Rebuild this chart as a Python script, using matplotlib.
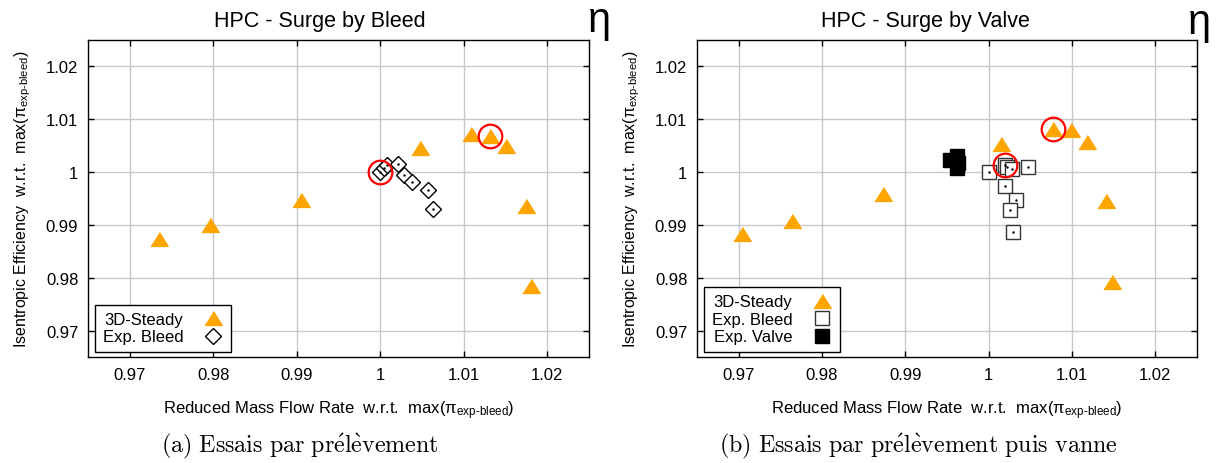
import matplotlib.pyplot as plt

plt.rcParams['font.family'] = ['Liberation Sans', 'DejaVu Sans']
plt.rcParams['mathtext.fontset'] = 'custom'
plt.rcParams['mathtext.rm'] = 'Liberation Sans'
plt.rcParams['mathtext.it'] = 'Liberation Sans:italic'

# --- data ---
bleed_cfd_x = [0.9735, 0.9796, 0.9905, 1.0048, 1.0109, 1.0132, 1.0151, 1.0174, 1.0180]
bleed_cfd_y = [0.9873, 0.9899, 0.9948, 1.0045, 1.0072, 1.0068, 1.0049, 0.9935, 0.9784]
bleed_exp_x = [1.0000, 1.0004, 1.0008, 1.0021, 1.0028, 1.0038, 1.0057, 1.0063]
bleed_exp_y = [1.0000, 1.0007, 1.0013, 1.0015, 0.9994, 0.9982, 0.9967, 0.9931]

valve_cfd_x = [0.9704, 0.9764, 0.9873, 1.0015, 1.0077, 1.0099, 1.0118, 1.0141, 1.0148]
valve_cfd_y = [0.9882, 0.9908, 0.9958, 1.0053, 1.0081, 1.0079, 1.0057, 0.9945, 0.9792]
valve_bleed_x = [1.0000, 1.0019, 1.0022, 1.0028, 1.0047, 1.0019, 1.0033, 1.0025, 1.0029]
valve_bleed_y = [1.0000, 1.0013, 1.0009, 1.0006, 1.0009, 0.9973, 0.9948, 0.9928, 0.9887]
valve_exp_x = [0.9954, 0.9962, 0.9963, 0.9962]
valve_exp_y = [1.0022, 1.0031, 1.0018, 1.0008]

ticks = [0.97, 0.98, 0.99, 1.0, 1.01, 1.02]
tick_labels = ['0.97', '0.98', '0.99', '1', '1.01', '1.02']

xlabel = r'Reduced Mass Flow Rate  w.r.t.  max($\mathregular{\pi_{exp\text{-}bleed}}$)'
ylabel = r'Isentropic Efficiency  w.r.t.  max($\mathregular{\pi_{exp\text{-}bleed}}$)'

cap_a = r'$\mathrm{(a)\ Essais\ par\ pr\acute{e}l\grave{e}vement}$'
cap_b = r'$\mathrm{(b)\ Essais\ par\ pr\acute{e}l\grave{e}vement\ puis\ vanne}$'

tri = [(-1, -0.8), (1, -0.8), (0, 0.8)]
ORANGE = '#ffa500'

W, H = 1219, 464
fig = plt.figure(figsize=(W / 100, H / 100), dpi=100)
ax1 = fig.add_axes([88 / W, 1 - 358 / H, 501 / W, 317 / H])
ax2 = fig.add_axes([697 / W, 1 - 358 / H, 500 / W, 317 / H])


def style(ax, title, tx):
    ax.set_xlim(0.965, 1.025)
    ax.set_ylim(0.965, 1.025)
    ax.set_xticks(ticks)
    ax.set_xticklabels(tick_labels)
    ax.set_yticks(ticks)
    ax.set_yticklabels(tick_labels)
    ax.grid(True, color='#c8c8c8', linewidth=1.0)
    ax.set_axisbelow(True)
    ax.tick_params(direction='in', length=4, width=1, top=True, right=True,
                   labelsize=12, pad=7)
    for sp in ax.spines.values():
        sp.set_linewidth(1.0)
    ax.set_xlabel(xlabel, fontsize=12, labelpad=12)
    ax.set_ylabel(ylabel, fontsize=11.5, labelpad=9)
    ax.set_title(title, fontsize=15.5, x=tx, pad=10)


def circle(ax, x, y):
    ax.plot(x, y, 'o', ms=17, mfc='none', mec='red', mew=1.6, zorder=6)


# --- left panel ---
style(ax1, 'HPC - Surge by Bleed', 0.463)
ax1.plot(bleed_cfd_x, bleed_cfd_y, ls='none', marker=tri, ms=12.5,
         color=ORANGE, label='3D-Steady', zorder=3)
ax1.plot(bleed_exp_x, bleed_exp_y, ls='none', marker='D', ms=8.2, mfc='white',
         mec='black', mew=1.0, label='Exp. Bleed', zorder=4)
ax1.plot(bleed_exp_x, bleed_exp_y, ls='none', marker='.', ms=1.5, color='black', zorder=5)
circle(ax1, bleed_exp_x[0], bleed_exp_y[0])
circle(ax1, bleed_cfd_x[5], bleed_cfd_y[5])
leg = ax1.legend(loc='lower left', bbox_to_anchor=(7 / 501, 5 / 317), borderaxespad=0,
                 markerfirst=False, fontsize=12, fancybox=False, edgecolor='black',
                 framealpha=1, handlelength=1.2, labelspacing=0.15, borderpad=0.45,
                 handletextpad=1.2)
leg.get_frame().set_linewidth(1.0)

# --- right panel ---
style(ax2, 'HPC - Surge by Valve', 0.457)
ax2.plot(valve_cfd_x, valve_cfd_y, ls='none', marker=tri, ms=12.5,
         color=ORANGE, label='3D-Steady', zorder=3)
ax2.plot(valve_bleed_x, valve_bleed_y, ls='none', marker='s', ms=9.5, mfc='white',
         mec='#333333', mew=1.0, label='Exp. Bleed', zorder=4)
ax2.plot(valve_bleed_x, valve_bleed_y, ls='none', marker='.', ms=1.5, color='black', zorder=5)
ax2.plot(valve_exp_x, valve_exp_y, ls='none', marker='s', ms=9.5, color='black',
         label='Exp. Valve', zorder=4)
circle(ax2, valve_cfd_x[4], valve_cfd_y[4])
circle(ax2, valve_bleed_x[1], valve_bleed_y[1])
leg = ax2.legend(loc='lower left', bbox_to_anchor=(7 / 500, 5 / 317), borderaxespad=0,
                 markerfirst=False, fontsize=12, fancybox=False, edgecolor='black',
                 framealpha=1, handlelength=1.2, labelspacing=0.15, borderpad=0.45,
                 handletextpad=1.2)
leg.get_frame().set_linewidth(1.0)

# eta symbols above the top-right corners
fig.text(599 / W, 1 - 21 / H, 'η', fontsize=30, ha='center', va='center')
fig.text(1199 / W, 1 - 23 / H, 'η', fontsize=30, ha='center', va='center')

# sub-figure captions
fig.text(300 / W, 1 - 446 / H, cap_a, fontsize=17.3, math_fontfamily='cm',
         ha='center', va='center')
fig.text(918 / W, 1 - 446 / H, cap_b, fontsize=17.3, math_fontfamily='cm',
         ha='center', va='center')

fig.savefig('out.png', dpi=100)
